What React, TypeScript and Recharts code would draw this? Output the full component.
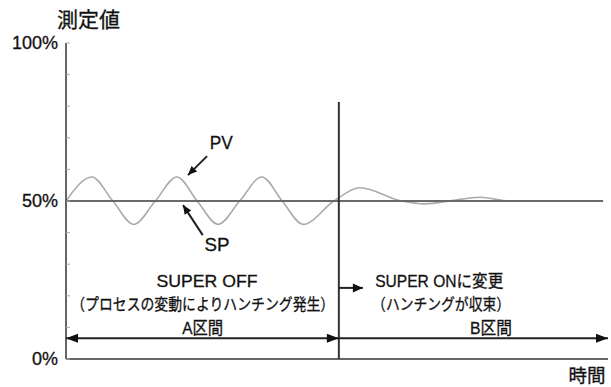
import React from 'react';
import { LineChart, Line, XAxis, YAxis, ReferenceLine, ReferenceDot } from 'recharts';

// PV (measured value) sampled at peaks, troughs and crossings
const pvTime = [0, 4.2, 7.6, 11.0, 14.5, 18.0, 21.3, 24.7, 28.2, 31.8, 35.1, 38.5, 43.5, 47.7, 54.5, 58.3, 62.3, 67.2, 72, 87.2];
const pvValue = [50, 57.6, 50, 42.6, 50, 57.6, 50, 42.6, 50, 57.6, 50, 42.6, 50, 54.2, 50, 49.1, 50, 51.2, 50, 50];
// SP (set point)
const spTime = [0, 87.2];
const spValue = [50, 50];

const xTicks = [10, 20, 30, 40, 50, 60, 70, 80];
const yTicks = [0, 10, 20, 30, 40, 50, 60, 70, 80, 90, 100];
const yLabels: Record<number, string> = { 0: '0%', 50: '50%', 100: '100%' };

const switchTime = 44.3;
const switchTop = 81.3;
const spanArrowLevel = 6.6;
const xMax = 88;

const pvData = pvTime.map((t, i) => ({ t, v: pvValue[i] }));
const spData = spTime.map((t, i) => ({ t, v: spValue[i] }));

const FONT = "'Liberation Sans', Arial, 'Noto Sans CJK JP', sans-serif";

type Annot = { text: string; x: number; y: number; w: number; size: number };
const annotations: Annot[] = [
  { text: '測定値', x: 3.65, y: 107.3, w: 63, size: 21 },
  { text: '時間', x: 84.6, y: -5.4, w: 37, size: 18 },
  { text: 'PV', x: 25.2, y: 68.4, w: 23, size: 18 },
  { text: 'SP', x: 24.5, y: 36.1, w: 25, size: 18 },
  { text: 'SUPER OFF', x: 22.9, y: 24.4, w: 101, size: 17 },
  { text: '（プロセスの変動によりハンチング発生）', x: 22.2, y: 17.1, w: 263, size: 16 },
  { text: 'A区間', x: 22.2, y: 9.8, w: 41, size: 17 },
  { text: 'SUPER ONに変更', x: 60.6, y: 24.4, w: 128, size: 17 },
  { text: '（ハンチングが収束）', x: 60.9, y: 17.1, w: 138, size: 16 },
  { text: 'B区間', x: 69.0, y: 9.8, w: 42, size: 17 },
];

type Arrow = { from: [number, number]; to: [number, number]; both?: boolean; len: number; hw: number };
const arrows: Arrow[] = [
  { from: [22.9, 64.2], to: [19.8, 58.2], len: 9, hw: 4 },
  { from: [22.2, 39.2], to: [19.0, 48.7], len: 9, hw: 4 },
  { from: [switchTime, 22.5], to: [48.2, 22.5], len: 10, hw: 4.5 },
  { from: [0, spanArrowLevel], to: [switchTime, spanArrowLevel], both: true, len: 12, hw: 4.5 },
  { from: [switchTime, spanArrowLevel], to: [xMax, spanArrowLevel], len: 12, hw: 4.5 },
];

const head = (tx: number, ty: number, fx: number, fy: number, len: number, hw: number) => {
  const dx = tx - fx;
  const dy = ty - fy;
  const d = Math.sqrt(dx * dx + dy * dy) || 1;
  const ux = dx / d;
  const uy = dy / d;
  const bx = tx - ux * len;
  const by = ty - uy * len;
  const px = -uy * hw;
  const py = ux * hw;
  return `${tx},${ty} ${bx + px},${by + py} ${bx - px},${by - py}`;
};

const makeArrowShape = (a: Arrow) => (p: any) => {
  const { x1, y1, x2, y2 } = p;
  return (
    <g>
      <line x1={x1} y1={y1} x2={x2} y2={y2} stroke="#222" strokeWidth={2} />
      <polygon points={head(x2, y2, x1, y1, a.len, a.hw)} fill="#111" />
      {a.both ? <polygon points={head(x1, y1, x2, y2, a.len, a.hw)} fill="#111" /> : null}
    </g>
  );
};

const makeTextShape = (a: Annot) => (p: any) => (
  <text
    x={p.cx}
    y={p.cy}
    textAnchor="middle"
    dominantBaseline="central"
    fontFamily={FONT}
    fontSize={a.size}
    fill="#111"
    stroke="#111"
    strokeWidth={0.3}
    textLength={a.w}
    lengthAdjust="spacingAndGlyphs"
  >
    {a.text}
  </text>
);

export default function App() {
  return (
    <div style={{ position: 'absolute', left: 0, top: 0, background: '#fff' }}>
      <LineChart width={611} height={387} margin={{ top: 43, right: 3, bottom: 0, left: 0 }}>
        <XAxis
          type="number"
          dataKey="t"
          domain={[0, xMax]}
          ticks={xTicks}
          allowDataOverflow
          height={28}
          tick={false}
          tickSize={-4}
          tickLine={{ stroke: '#aaa' }}
          axisLine={{ stroke: '#333', strokeWidth: 1.5 }}
        />
        <YAxis
          type="number"
          dataKey="v"
          domain={[0, 100]}
          ticks={yTicks}
          interval={0}
          width={66}
          tickSize={-4}
          tickMargin={12}
          tickFormatter={(v: number) => yLabels[v] ?? ''}
          tick={{ fill: '#111', stroke: '#111', strokeWidth: 0.3, fontSize: 18, fontFamily: FONT }}
          tickLine={{ stroke: '#aaa' }}
          axisLine={{ stroke: '#333', strokeWidth: 1.5 }}
        />
        <Line
          data={pvData}
          dataKey="v"
          type="monotone"
          stroke="#ababab"
          strokeWidth={1.6}
          dot={false}
          isAnimationActive={false}
        />
        <Line
          data={spData}
          dataKey="v"
          type="linear"
          stroke="#6a6a6a"
          strokeWidth={2}
          dot={false}
          isAnimationActive={false}
        />
        <ReferenceLine
          segment={[{ x: switchTime, y: 0 }, { x: switchTime, y: switchTop }]}
          stroke="#333"
          strokeWidth={2}
          ifOverflow="visible"
        />
        {arrows.map((a, i) => (
          <ReferenceLine
            key={'a' + i}
            segment={[{ x: a.from[0], y: a.from[1] }, { x: a.to[0], y: a.to[1] }]}
            ifOverflow="visible"
            shape={makeArrowShape(a)}
          />
        ))}
        {annotations.map((a, i) => (
          <ReferenceDot
            key={'t' + i}
            x={a.x}
            y={a.y}
            r={0}
            ifOverflow="visible"
            shape={makeTextShape(a)}
          />
        ))}
      </LineChart>
    </div>
  );
}
